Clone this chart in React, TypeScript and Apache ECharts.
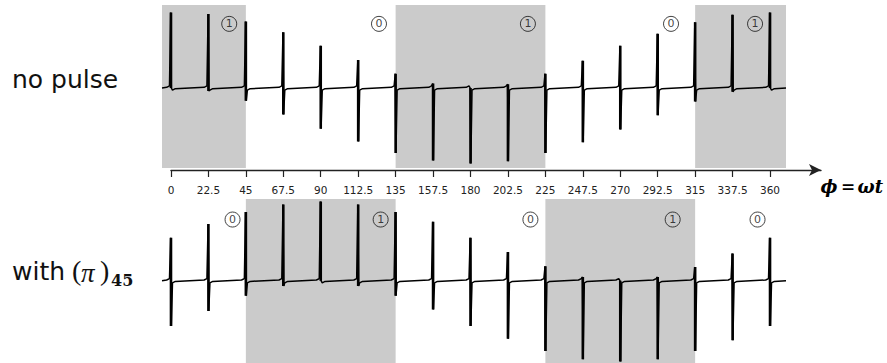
import React, { useEffect, useRef } from "react";
import * as echarts from "echarts";

// ---- data ----
const PHI = [0, 22.5, 45, 67.5, 90, 112.5, 135, 157.5, 180, 202.5, 225, 247.5, 270, 292.5, 315, 337.5, 360];
const NO_PULSE_UP = [1.0, 0.98, 0.88, 0.74, 0.56, 0.37, 0.19, 0.06, 0.0, 0.05, 0.19, 0.36, 0.56, 0.72, 0.87, 0.97, 1.0];
const NO_PULSE_DOWN = [0.0, 0.04, 0.17, 0.35, 0.54, 0.71, 0.86, 0.96, 1.0, 0.97, 0.86, 0.72, 0.55, 0.36, 0.18, 0.05, 0.0];
const WITH_PI_UP = [0.57, 0.75, 0.91, 1.01, 1.05, 1.01, 0.91, 0.78, 0.57, 0.38, 0.19, 0.05, 0.0, 0.05, 0.18, 0.36, 0.57];
const WITH_PI_DOWN = [0.6, 0.4, 0.2, 0.07, 0.0, 0.07, 0.2, 0.38, 0.6, 0.77, 0.93, 1.04, 1.07, 1.04, 0.93, 0.79, 0.6];

const NO_PULSE_SHADED = [[-5.4, 45], [135, 225], [315, 369.6]];
const WITH_PI_SHADED = [[45, 135], [225, 315]];

const NO_PULSE_LABEL_PHI = [35, 125, 214.5, 300.5, 351];
const NO_PULSE_LABEL_STATE = ["1", "0", "1", "0", "1"];
const WITH_PI_LABEL_PHI = [37, 126, 216, 301.5, 352.5];
const WITH_PI_LABEL_STATE = ["0", "1", "0", "1", "0"];

const TICKS = PHI;

// ---- layout ----
const X_MIN = -5.4;
const X_MAX = 369.6;
const PLOT_LEFT = 162;
const PLOT_WIDTH = 624;
const PX_PER_DEG = PLOT_WIDTH / (X_MAX - X_MIN);
const AXIS_LEFT = PLOT_LEFT + (0 - X_MIN) * PX_PER_DEG;
const AXIS_WIDTH = 650;
const AXIS_MAX = AXIS_WIDTH / PX_PER_DEG;

// spike lineshape template (dispersive hooks next to each line)
const HOOK_FAR = [2.6, 0.009];
const HOOK_NEAR = [0.9, 0.028];

function buildTrace(up: number[], down: number[]) {
  const pts: (number | string)[][] = [[X_MIN, 0]];
  PHI.forEach((a, i) => {
    pts.push([a - HOOK_FAR[0], HOOK_FAR[1]]);
    pts.push([a - HOOK_NEAR[0], HOOK_NEAR[1]]);
    pts.push([a - 0.2, up[i]]);
    pts.push([a + 0.2, -down[i]]);
    pts.push([a + HOOK_NEAR[0], -HOOK_NEAR[1]]);
    pts.push([a + HOOK_FAR[0], -HOOK_FAR[1]]);
  });
  pts.push([X_MAX, 0]);
  return pts;
}

function buildSpikes(up: number[], down: number[]) {
  const pts: (number | string)[][] = [];
  PHI.forEach((a, i) => {
    pts.push([a, up[i]]);
    pts.push([a, -down[i]]);
    pts.push([a, "-"]);
  });
  return pts;
}

function shadeSeries(ranges: number[][], idx: number) {
  return {
    type: "line",
    xAxisIndex: idx,
    yAxisIndex: idx,
    data: [],
    z: 1,
    silent: true,
    markArea: {
      silent: true,
      itemStyle: { color: "#cbcbcb" },
      data: ranges.map((r) => [{ xAxis: r[0] }, { xAxis: r[1] }]),
    },
  };
}

function labelSeries(phis: number[], states: string[], y: number, idx: number) {
  return {
    type: "scatter",
    xAxisIndex: idx,
    yAxisIndex: idx,
    z: 5,
    symbol: "circle",
    symbolSize: 15,
    itemStyle: { color: "rgba(0,0,0,0)", borderColor: "#111", borderWidth: 1 },
    label: {
      show: true,
      position: "inside",
      formatter: "{b}",
      fontFamily: "DejaVu Sans",
      fontSize: 11,
      color: "#111",
    },
    data: phis.map((p, i) => ({ name: states[i], value: [p, y] })),
  };
}

function traceSeries(name: string, up: number[], down: number[], idx: number) {
  return [
    {
      type: "line",
      name,
      xAxisIndex: idx,
      yAxisIndex: idx,
      z: 3,
      symbol: "none",
      lineStyle: { color: "#000", width: 1.5 },
      data: buildTrace(up, down),
    },
    {
      type: "line",
      name: name + " lines",
      xAxisIndex: idx,
      yAxisIndex: idx,
      z: 4,
      symbol: "none",
      connectNulls: false,
      lineStyle: { color: "#000", width: 2.6 },
      data: buildSpikes(up, down),
    },
  ];
}

function mathGlyph(text: string, x: number, y: number, size: number) {
  return {
    type: "text",
    x,
    y,
    style: {
      text,
      fontFamily: "DejaVu Serif",
      fontWeight: "bold",
      fontStyle: "italic",
      fontSize: size,
      fill: "#000",
      align: "center",
      verticalAlign: "middle",
    },
  };
}

export default function App() {
  const ref = useRef<HTMLDivElement>(null);
  useEffect(() => {
    if (!ref.current) return;
    const chart = echarts.init(ref.current, null, { renderer: "svg" });
    chart.setOption({
      animation: false,
      backgroundColor: "#fff",
      grid: [
        { left: PLOT_LEFT, top: 5, width: PLOT_WIDTH, height: 163 },
        { left: PLOT_LEFT, top: 199, width: PLOT_WIDTH, height: 164 },
        { left: AXIS_LEFT, top: 150, width: AXIS_WIDTH, height: 20 },
      ],
      xAxis: [
        { gridIndex: 0, type: "value", min: X_MIN, max: X_MAX, show: false },
        { gridIndex: 1, type: "value", min: X_MIN, max: X_MAX, show: false },
        {
          gridIndex: 2,
          type: "value",
          min: 0,
          max: AXIS_MAX,
          position: "bottom",
          splitLine: { show: false },
          axisLine: {
            show: true,
            symbol: ["none", "arrow"],
            symbolSize: [9, 12],
            lineStyle: { color: "#222", width: 1.4 },
          },
          axisTick: {
            show: true,
            customValues: TICKS,
            length: 7,
            lineStyle: { color: "#222", width: 1.2 },
          },
          axisLabel: {
            show: true,
            customValues: TICKS,
            margin: 14,
            fontFamily: "DejaVu Sans",
            fontSize: 10.5,
            color: "#222",
            formatter: (v: number) => String(v),
          },
        },
      ],
      yAxis: [
        { gridIndex: 0, type: "value", min: -1.06, max: 1.1, show: false },
        { gridIndex: 1, type: "value", min: -1.09, max: 1.082, show: false },
        { gridIndex: 2, type: "value", min: 0, max: 1, show: false },
      ],
      series: [
        shadeSeries(NO_PULSE_SHADED, 0),
        shadeSeries(WITH_PI_SHADED, 1),
        ...traceSeries("no pulse", NO_PULSE_UP, NO_PULSE_DOWN, 0),
        ...traceSeries("with (π)45", WITH_PI_UP, WITH_PI_DOWN, 1),
        labelSeries(NO_PULSE_LABEL_PHI, NO_PULSE_LABEL_STATE, 0.85, 0),
        labelSeries(WITH_PI_LABEL_PHI, WITH_PI_LABEL_STATE, 0.81, 1),
      ],
      graphic: [
        {
          type: "text",
          left: 12,
          top: 67,
          style: { text: "no pulse", fontFamily: "DejaVu Sans", fontSize: 25, fill: "#111" },
        },
        {
          type: "text",
          left: 12,
          top: 259,
          style: { text: "with", fontFamily: "DejaVu Sans", fontSize: 25, fill: "#111" },
        },
        {
          type: "text",
          left: 72,
          top: 256,
          style: { text: "(", fontFamily: "Liberation Serif", fontSize: 28, fill: "#111" },
        },
        {
          type: "text",
          left: 81,
          top: 259,
          style: { text: "π", fontFamily: "Liberation Serif", fontStyle: "italic", fontSize: 27, fill: "#111" },
        },
        {
          type: "text",
          left: 100,
          top: 256,
          style: { text: ")", fontFamily: "Liberation Serif", fontSize: 28, fill: "#111" },
        },
        {
          type: "text",
          left: 111,
          top: 272,
          style: { text: "45", fontFamily: "DejaVu Serif", fontWeight: "bold", fontSize: 16, fill: "#111" },
        },
        mathGlyph("ϕ", 829, 186, 18),
        mathGlyph("=", 848, 186, 17),
        mathGlyph("ω", 866, 186, 18),
        mathGlyph("t", 879, 186, 18),
      ],
    });
    return () => chart.dispose();
  }, []);
  return (
    <div
      ref={ref}
      style={{ position: "fixed", left: 0, top: 0, width: 887, height: 363 }}
    />
  );
}
